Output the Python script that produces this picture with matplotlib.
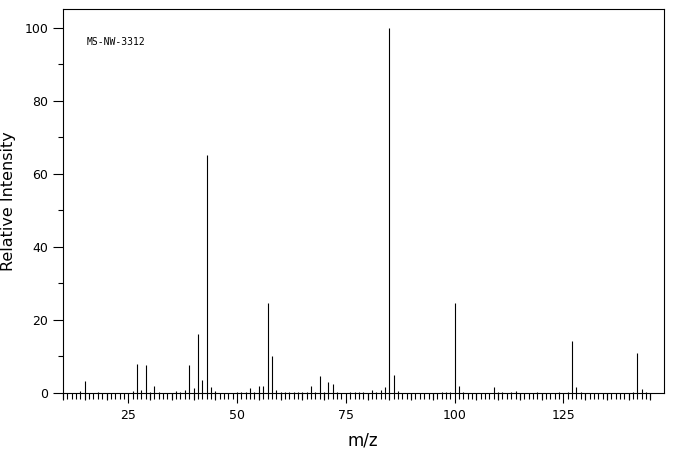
import numpy as np
import matplotlib
matplotlib.use("Agg")
import matplotlib.pyplot as plt
from matplotlib.ticker import MultipleLocator, FixedLocator, NullFormatter

# ------------------------------------------------------------
# spectrum data (m/z, relative intensity)
# ------------------------------------------------------------
mz = [14, 15, 18, 26, 27, 28, 29, 30, 31, 32,
      36, 37, 38, 39, 40, 41, 42, 43, 44, 45,
      50, 51, 52, 53, 54, 55, 56, 57, 58, 59, 60,
      61, 62, 63, 64, 65, 66, 67, 68, 69, 70, 71, 72, 73,
      76, 77, 78, 79, 81, 82, 83, 84, 85, 86, 87,
      97, 98, 99, 100, 101, 102, 109, 110, 111, 113, 114,
      119, 124, 126, 127, 128, 129, 141, 142, 143, 144]
intensity = [0.6, 3.4, 0.4, 0.6, 7.9, 0.8, 7.6, 0.4, 2.0, 0.4,
             0.5, 0.3, 0.8, 7.6, 1.5, 16.1, 3.6, 65.0, 1.6, 0.5,
             0.4, 0.3, 0.4, 1.5, 0.4, 2.0, 2.0, 24.6, 10.1, 0.8, 0.4,
             0.3, 0.4, 0.4, 0.3, 0.3, 0.4, 1.8, 0.4, 4.6, 0.4, 2.9, 2.4, 0.4,
             0.3, 0.4, 0.3, 0.4, 0.9, 0.4, 0.9, 1.6, 100.0, 4.8, 0.6,
             0.4, 0.4, 0.4, 24.5, 1.8, 0.4, 1.6, 0.4, 0.4, 0.4, 0.6,
             0.4, 0.4, 0.4, 14.3, 1.6, 0.4, 0.4, 11.0, 1.2, 0.4]

x_major = [25, 50, 75, 100, 125]
x_mid = [10, 15, 20, 30, 35, 40, 45, 55, 60, 65, 70, 80, 85, 90, 95,
         105, 110, 115, 120, 130, 135, 140, 145]
x_minor = list(range(10, 146))
y_major = [0, 20, 40, 60, 80, 100]
y_minor = [10, 30, 50, 70, 90]

label = "MS-NW-3312"

# ------------------------------------------------------------
# figure
# ------------------------------------------------------------
fig = plt.figure(figsize=(6.76, 4.55), dpi=100)
ax = fig.add_axes([63 / 676, 1 - 393 / 455, 600.5 / 676, 383.7 / 455])

ax.vlines(mz, 0, intensity, color="black", linewidth=0.8)

ax.set_xlim(10, 148)
ax.set_ylim(0, 105)

for s in ax.spines.values():
    s.set_linewidth(0.8)
    s.set_color("black")

ax.xaxis.set_major_locator(FixedLocator(x_major))
ax.xaxis.set_minor_locator(FixedLocator(x_minor))
ax.yaxis.set_major_locator(FixedLocator(y_major))
ax.yaxis.set_minor_locator(FixedLocator(y_minor))

ax.tick_params(axis="x", which="major", direction="out", length=7.2,
               width=0.8, labelsize=9, pad=4)
ax.tick_params(axis="x", which="minor", direction="out", length=4.3,
               width=0.8)
ax.tick_params(axis="y", which="major", direction="out", length=7.2,
               width=0.8, labelsize=9, pad=3.5)
ax.tick_params(axis="y", which="minor", direction="out", length=3.6,
               width=0.8)

# medium ticks every 5
sec = ax.secondary_xaxis("bottom")
sec.xaxis.set_major_locator(FixedLocator(x_mid))
sec.xaxis.set_major_formatter(NullFormatter())
sec.tick_params(axis="x", direction="out", length=5.3, width=0.8)
sec.spines["bottom"].set_visible(False)

ax.set_xlabel("m/z", fontsize=12, labelpad=7)
ax.set_ylabel("Relative Intensity", fontsize=11.5, labelpad=6)

ax.text(0.04, 0.9155, label, transform=ax.transAxes, fontsize=7,
        family="DejaVu Sans Mono", va="center", ha="left")

fig.savefig("out.png", dpi=100)
